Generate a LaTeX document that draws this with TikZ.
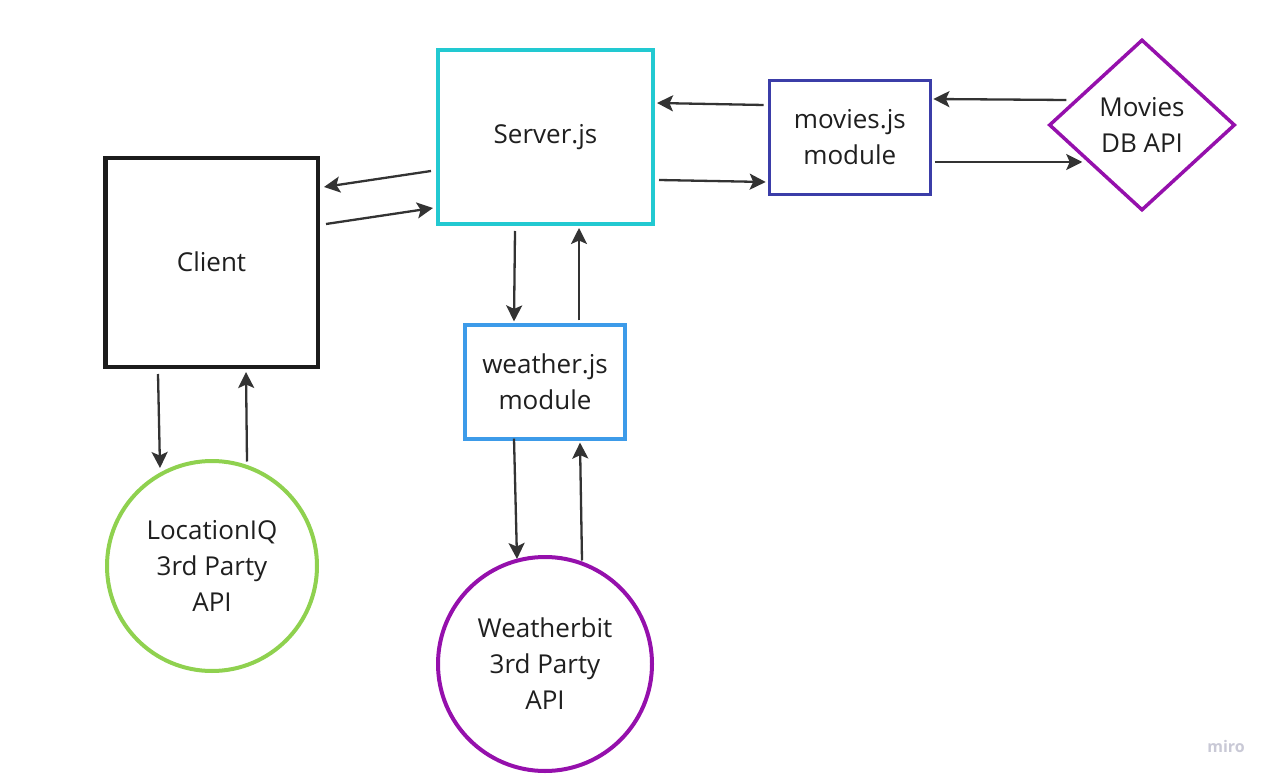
\documentclass[tikz,border=0pt]{standalone}
\usepackage{fontspec}
\setmainfont{Open Sans}
\usetikzlibrary{shapes.geometric,arrows.meta}
\definecolor{cyanb}{HTML}{22C9D1}
\definecolor{blackb}{HTML}{1C1C1C}
\definecolor{indigob}{HTML}{3B3DA8}
\definecolor{blueb}{HTML}{3D9BE9}
\definecolor{greenb}{HTML}{8FD14F}
\definecolor{purpleb}{HTML}{9510AC}
\definecolor{arrc}{HTML}{333333}
\definecolor{txtc}{HTML}{1F1F1F}
\definecolor{miroc}{HTML}{C9C9D6}
\begin{document}
\begin{tikzpicture}[x=1pt,y=-1pt,
  lbl/.style={font=\fontsize{26}{36}\selectfont, text=txtc, align=center, inner sep=0pt},
  boxs/.style={lbl, rectangle, draw, line width=3.2pt},
  circs/.style={lbl, circle, draw, line width=4pt},
  arr/.style={draw=arrc, line width=2.3pt, -{Stealth[length=16pt,width=16pt,inset=3.5pt]}}]
\useasboundingbox (0,0) rectangle (1276,783);
\fill[white] (0,0) rectangle (1276,783);
\node[boxs, draw=cyanb, line width=4pt, minimum width=215, minimum height=174] (srv) at (545.5,137) {Server.js};
\node[boxs, draw=blackb, line width=4.5pt, minimum width=212.5, minimum height=208.5] (cli) at (211.5,262.5) {\raisebox{2pt}{Client}};
\node[boxs, draw=indigob, minimum width=161, minimum height=114] (mov) at (849.8,137.5) {movies.js\\module};
\node[boxs, draw=blueb, minimum width=160, minimum height=114] (wea) at (545,382) {weather.js\\module};
\node[circs, draw=greenb, minimum size=210] (loc) at (212,566) {LocationIQ\\3rd Party\\API};
\node[circs, draw=purpleb, minimum size=214] (wbt) at (545,664) {Weatherbit\\3rd Party\\API};
\node[lbl, diamond, draw=purpleb, line width=3.5pt, minimum width=186, minimum height=171] (dia) at (1142,125) {Movies\\DB API};
\node[font=\bfseries\fontsize{16}{19}\selectfont, text=miroc, inner sep=0pt] (miro) at (1226,746) {miro};
% connectors
\draw[arr] ([shift={(-5,34)}]srv.west) -- ([shift={(4,-75.5)}]cli.east);
\draw[arr] ([shift={(6,-38.5)}]cli.east) -- ([shift={(-3,71)}]srv.west);
\draw[arr] ([shift={(-30.5,5)}]srv.south) -- ([shift={(-31,-2)}]wea.north);
\draw[arr] ([shift={(34,-3)}]wea.north) -- ([shift={(33.5,2)}]srv.south);
\draw[arr] ([shift={(-4,-32.5)}]mov.west) -- ([shift={(2,-34)}]srv.east);
\draw[arr] ([shift={(4,43)}]srv.east) -- ([shift={(-2,44.5)}]mov.west);
\draw[arr] ([shift={(19,-25)}]dia.west) -- ([shift={(1.5,-38.5)}]mov.east);
\draw[arr] ([shift={(3,24.5)}]mov.east) -- ([shift={(35,37)}]dia.west);
\draw[arr] ([shift={(-53.5,5)}]cli.south) -- ([shift={(-52,9)}]loc.north);
\draw[arr] ([shift={(35,2.5)}]loc.north) -- ([shift={(34.5,3)}]cli.south);
\draw[arr] ([shift={(-31,-2)}]wea.south) -- ([shift={(-28,4)}]wbt.north);
\draw[arr] ([shift={(37,5.5)}]wbt.north) -- ([shift={(35,2)}]wea.south);
\end{tikzpicture}
\end{document}
